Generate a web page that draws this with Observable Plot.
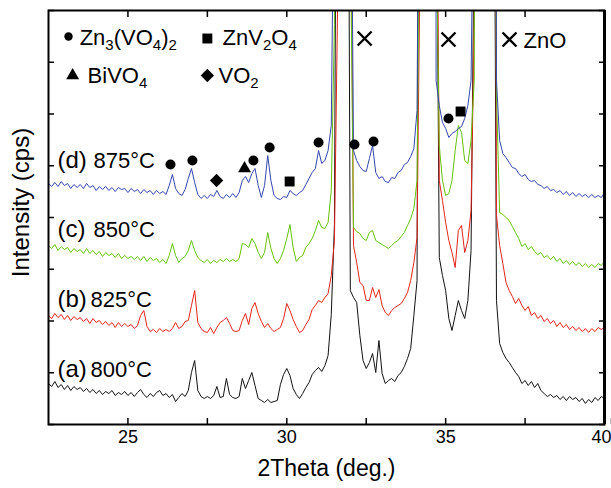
<!DOCTYPE html>
<html>
<head>
<meta charset="utf-8">
<script src="https://cdn.jsdelivr.net/npm/d3@7"></script>
<script src="https://cdn.jsdelivr.net/npm/@observablehq/plot@0.6"></script>
<style>
  body { margin: 0; background: #fff; }
</style>
</head>
<body>
<div id="chart"></div>
<script>
// XRD scans recorded from 22.5° in 0.1° steps (2θ); intensities stacked per annealing temperature
const scanStart = 22.5;
const scanStep = 0.1;

const samples = ["800°C", "825°C", "850°C", "875°C"];
const sampleTags = ["(a)", "(b)", "(c)", "(d)"];
const sampleColors = ["#111111", "#e3241b", "#66c10c", "#3347ad"];

const i800 = [
  41,38,43,37,40,35,39,34,38,35,
  37,33,36,32,35,31,34,30,33,31,
  34,29,32,30,33,29,32,28,32,35,
  30,27,31,28,32,34,29,31,27,30,
  23,27,31,28,34,52,64,34,28,26,
  28,26,29,38,27,28,46,30,27,26,
  28,46,36,44,52,39,26,24,22,25,
  22,23,24,40,50,56,49,36,30,26,
  31,37,42,50,54,57,53,59,69,110,
  200,900,3000,5000,900,134,127,122,89,64,
  56,62,71,52,84,51,41,44,46,43,
  49,52,58,66,76,109,144,1200,4000,6000,
  5000,2000,600,167,149,134,106,94,109,124,
  114,106,124,174,500,3000,6000,8000,6000,3000,
  800,124,81,72,66,62,57,52,48,41,
  44,39,43,37,41,34,31,28,30,27,
  29,25,28,24,28,25,27,23,26,21,
  25,22,27,24,28,26
];
const i825 = [
  109,106,111,107,110,105,109,104,108,105,
  107,103,106,101,106,102,104,100,103,99,
  102,97,102,98,101,98,100,96,99,109,
  114,98,93,95,92,96,93,95,93,96,
  102,96,98,103,104,119,134,102,96,93,
  92,97,91,97,102,104,107,101,94,93,
  94,104,111,100,116,122,111,103,97,101,
  96,93,95,97,106,121,114,105,98,92,
  94,100,105,115,119,124,122,127,131,149,
  184,420,3000,5000,3000,600,179,162,142,139,
  124,124,137,127,135,119,112,109,114,117,
  119,121,126,132,144,162,187,480,3000,6000,
  5000,2500,700,244,224,202,184,172,157,194,
  199,172,184,214,400,2000,5000,7000,5000,2500,
  1500,209,179,161,142,134,128,121,126,119,
  114,118,109,112,106,109,103,106,101,104,
  98,102,97,100,95,98,94,97,93,96,
  92,96,93,97,95,98
];
const i850 = [
  179,176,180,174,178,175,177,172,176,173,
  175,171,176,171,174,170,173,168,172,169,
  171,167,171,166,169,166,168,165,168,164,
  168,163,167,164,166,162,165,161,169,181,
  169,162,166,168,174,184,174,167,164,162,
  165,161,164,162,165,163,166,163,165,163,
  166,181,180,177,186,181,172,166,172,192,
  176,166,161,166,174,186,200,177,163,167,
  169,177,181,186,194,204,197,196,202,234,
  400,2500,5000,6000,4000,500,197,193,191,186,
  184,192,194,184,182,180,178,176,179,182,
  184,188,192,199,206,216,244,600,3500,7000,
  6000,3000,500,279,244,229,231,244,274,299,
  292,264,261,284,344,2000,5000,7000,5000,2500,
  1200,330,212,210,207,204,198,192,186,178,
  181,175,178,173,170,172,167,169,165,168,
  163,166,161,164,160,163,159,162,158,161,
  157,160,157,161,159,163
];
const i875 = [
  241,238,242,238,243,239,241,236,240,237,
  240,236,241,237,239,234,238,235,238,234,
  237,233,237,235,236,232,236,233,235,231,
  235,232,234,230,234,231,233,230,239,250,
  236,231,229,235,246,256,242,230,226,229,
  226,230,228,234,228,226,230,227,231,227,
  232,244,248,242,251,256,239,227,239,269,
  244,229,226,225,228,227,234,231,229,232,
  234,240,246,252,256,274,261,264,274,299,
  600,3000,6000,7000,5000,700,274,264,258,254,
  253,266,279,252,246,248,243,242,247,246,
  252,254,260,262,268,276,314,800,4000,7000,
  7000,4000,344,319,302,296,287,291,293,296,
  298,306,319,344,600,3000,6000,8000,7000,4000,
  1500,344,284,271,267,262,257,256,251,248,
  250,245,243,244,240,239,236,238,234,235,
  232,234,230,233,229,232,228,231,228,230,
  227,230,227,229,227,232
];
const scans = [i800, i825, i850, i875];

// Phase assignments on the 875°C pattern: [2θ, intensity]
const peaksZn3V2O8 = [[26.34, 260], [27.03, 264], [28.95, 264], [29.46, 277], [31.0, 282], [32.13, 280], [32.73, 283], [35.09, 306]];
const peaksZnV2O4 = [[30.09, 243], [35.47, 313]];
const peaksBiVO4 = [[28.67, 256]];
const peaksVO2 = [[27.79, 244]];
const peaksZnO = [[32.45, 386], [35.09, 385]];

const phaseNames = ["Zn3(VO4)2", "ZnV2O4", "BiVO4", "VO2", "ZnO"];
const phaseSymbols = ["circle", "square", "triangle", "diamond2", "times"];

const xTickLabels = [25, 30, 35];
const xLastTick = [40];
const xMinorTicks = [27.5, 32.5, 37.5];

// layout of the key and of the curve labels, in data coordinates
const keyLayout = [
  {mx: 23.13, my: 388, tx: 23.48, ty: 380, r: 4.2},
  {mx: 27.50, my: 386, tx: 27.98, ty: 380, r: 5.6},
  {mx: 23.26, my: 349, tx: 23.73, ty: 342, r: 4.8},
  {mx: 27.50, my: 349, tx: 27.85, ty: 342, r: 6},
  {mx: 37.01, my: 385, tx: 37.45, ty: 377, r: 6.4}
];
const curveLabelLayout = [
  {tagX: 22.78, tempX: 23.82, y: 48},
  {tagX: 22.78, tempX: 23.82, y: 118},
  {tagX: 22.78, tempX: 23.92, y: 188},
  {tagX: 22.78, tempX: 23.92, y: 257}
];

const rows = [];
scans.forEach((arr, s) => arr.forEach((v, i) => rows.push({
  theta: +(scanStart + i * scanStep).toFixed(2), intensity: v, sample: samples[s]
})));

const key = phaseNames.map((name, i) => ({name, symbol: phaseSymbols[i], ...keyLayout[i]}));
const curveLabels = samples.map((t, i) => ({tag: sampleTags[i], temp: t, ...curveLabelLayout[i]}));

const yTicks = d3.range(0, 415, 51.75);
const blank = () => "";
const px = d => d[0], py = d => d[1];

const chart = Plot.plot({
  width: 611,
  height: 488,
  marginLeft: 48,
  marginRight: 7,
  marginTop: 10,
  marginBottom: 64,
  style: {fontFamily: "'Liberation Sans', Arial, sans-serif", color: "black", background: "white"},
  x: {domain: [22.5, 40]},
  y: {domain: [0, 414]},
  r: {type: "identity"},
  color: {domain: samples, range: sampleColors},
  marks: [
    Plot.line(rows, {x: "theta", y: "intensity", z: "sample", stroke: "sample", strokeWidth: 1, clip: true}),
    Plot.frame({stroke: "black", strokeWidth: 2}),
    Plot.ruleX([40], {stroke: "black", strokeWidth: 3}),
    Plot.axisX(xTickLabels, {anchor: "bottom", tickSize: -6, tickPadding: 12, fontSize: 18, label: null, strokeWidth: 1.5, tickFormat: d => d}),
    Plot.axisX(xLastTick, {anchor: "bottom", tickSize: -6, tickPadding: 12, fontSize: 18, label: null, strokeWidth: 1.5, tickFormat: d => d, textAnchor: "end", dx: 7}),
    Plot.axisX(xMinorTicks, {anchor: "bottom", tickSize: -6, label: null, strokeWidth: 1.5, tickFormat: blank}),
    Plot.axisX([...xTickLabels, ...xLastTick, ...xMinorTicks], {anchor: "top", tickSize: -6, label: null, strokeWidth: 1.5, tickFormat: blank}),
    Plot.axisY(yTicks, {anchor: "left", tickSize: -6, label: null, strokeWidth: 1.5, tickFormat: blank}),
    Plot.axisY(yTicks, {anchor: "right", tickSize: -6, label: null, strokeWidth: 1.5, tickFormat: blank}),
    Plot.text(["2Theta (deg.)"], {frameAnchor: "bottom", dy: 44, text: d => d, fontSize: 23, lineAnchor: "middle", textAnchor: "middle"}),
    Plot.text(["Intensity (cps)"], {frameAnchor: "left", rotate: -90, dx: -27, dy: -15, text: d => d, fontSize: 24, lineAnchor: "middle", textAnchor: "middle"}),
    // curve labels
    Plot.text(curveLabels, {x: "tagX", y: "y", text: "tag", textAnchor: "start", lineAnchor: "bottom", fontSize: 24}),
    Plot.text(curveLabels, {x: "tempX", y: "y", text: "temp", textAnchor: "start", lineAnchor: "bottom", fontSize: 22}),
    // phase markers on the peaks
    Plot.dot(peaksZn3V2O8, {x: px, y: py, symbol: "circle", r: 5, fill: "black"}),
    Plot.dot(peaksZnV2O4, {x: px, y: py, symbol: "square", r: 5.6, fill: "black"}),
    Plot.dot(peaksBiVO4, {x: px, y: py, symbol: "triangle", r: 4.8, fill: "black"}),
    Plot.dot(peaksVO2, {x: px, y: py, symbol: "diamond2", r: 6, fill: "black"}),
    Plot.dot(peaksZnO, {x: px, y: py, symbol: "times", r: 6.4, stroke: "black", strokeWidth: 2.4}),
    // key
    Plot.dot(key.filter(d => d.symbol !== "times"), {x: "mx", y: "my", symbol: "symbol", r: "r", fill: "black"}),
    Plot.dot(key.filter(d => d.symbol === "times"), {x: "mx", y: "my", symbol: "symbol", r: "r", stroke: "black", strokeWidth: 2.4}),
    Plot.text(key, {x: "tx", y: "ty", text: "name", textAnchor: "start", lineAnchor: "bottom", fontSize: 22})
  ]
});

// chemical formulas: render digits as subscripts
chart.querySelectorAll("text").forEach(t => {
  const s = t.textContent;
  if (!phaseNames.includes(s) || !/\d/.test(s)) return;
  t.textContent = "";
  const ns = "http://www.w3.org/2000/svg";
  let shifted = false;
  s.split(/(\d+)/).filter(p => p !== "").forEach(part => {
    const span = document.createElementNS(ns, "tspan");
    span.textContent = part;
    if (/^\d+$/.test(part)) {
      span.setAttribute("font-size", "15");
      span.setAttribute("dy", "5");
      shifted = true;
    } else if (shifted) {
      span.setAttribute("dy", "-5");
      shifted = false;
    }
    t.appendChild(span);
  });
});

document.getElementById("chart").appendChild(chart);
</script>
</body>
</html>
